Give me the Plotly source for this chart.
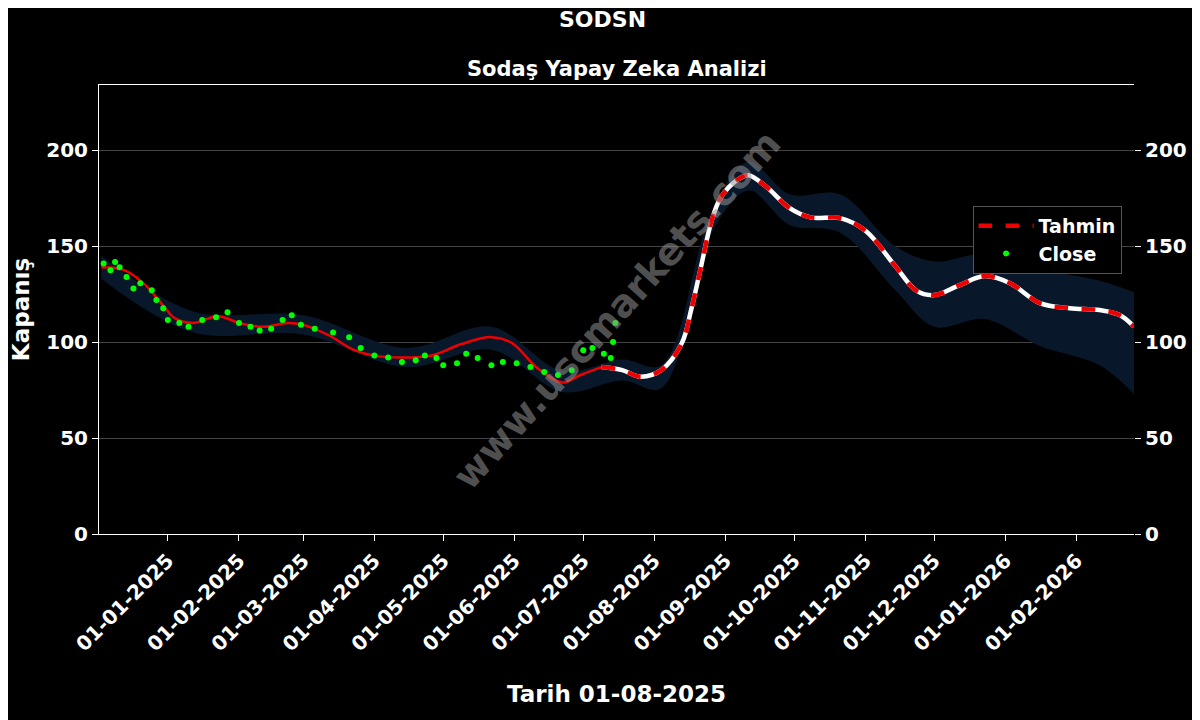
import plotly.graph_objects as go
import pandas as pd

# prediction line (Tahmin)
pred_dates = ['2024-12-03', '2024-12-13', '2024-12-22', '2024-12-30', '2025-01-04', '2025-01-12',
              '2025-01-23', '2025-02-01', '2025-02-12', '2025-02-22', '2025-03-01', '2025-03-12',
              '2025-03-23', '2025-04-02', '2025-04-15', '2025-04-26', '2025-05-09', '2025-05-22',
              '2025-05-31', '2025-06-11', '2025-06-22', '2025-06-30', '2025-07-09', '2025-07-18',
              '2025-07-26', '2025-08-04', '2025-08-13', '2025-08-17', '2025-08-21', '2025-08-26',
              '2025-08-30', '2025-09-06', '2025-09-11', '2025-09-19', '2025-09-29', '2025-10-08',
              '2025-10-21', '2025-11-01', '2025-11-14', '2025-11-23', '2025-12-01', '2025-12-12',
              '2025-12-23', '2026-01-03', '2026-01-16', '2026-01-29', '2026-02-11', '2026-02-20',
              '2026-02-26']
pred_values = [139, 137.5, 130, 119, 112.5, 110,
               113.5, 110, 108, 110, 109, 103.6,
               96, 92.7, 92, 93, 99, 102.6,
               99.5, 86.5, 79, 83, 87, 85.4,
               82, 85.4, 99.5, 116.7, 137.5, 163.5,
               175.5, 184.4, 187, 180.7, 169.8, 165,
               164.6, 158, 139.6, 127, 124.5, 129.7,
               134.4, 130.7, 120.3, 117.7, 116.7, 114,
               108]
forecast_start = '2025-07-15'

# confidence band
band_dates = ['2024-12-03', '2025-01-12', '2025-03-01', '2025-04-15', '2025-05-22', '2025-06-22',
              '2025-07-18', '2025-08-04', '2025-08-26', '2025-09-11', '2025-09-29', '2025-10-21',
              '2025-11-14', '2025-12-01', '2025-12-23', '2026-01-16', '2026-02-11', '2026-02-26']
band_upper = [145, 116, 114, 97, 108, 85, 91, 88, 168, 194, 177, 177, 150, 142, 146, 138, 132, 126]
band_lower = [133, 105, 104, 87, 96, 74, 80, 76, 157, 179, 161, 157, 127, 108, 112, 98, 88, 73]

# actual closes
close_dates = ['2024-12-04', '2024-12-07', '2024-12-09', '2024-12-11', '2024-12-14', '2024-12-17',
               '2024-12-20', '2024-12-25', '2024-12-27', '2024-12-30', '2025-01-01', '2025-01-06',
               '2025-01-10', '2025-01-16', '2025-01-22', '2025-01-27', '2025-02-01', '2025-02-06',
               '2025-02-10', '2025-02-15', '2025-02-20', '2025-02-24', '2025-02-28', '2025-03-06',
               '2025-03-14', '2025-03-21', '2025-03-26', '2025-04-01', '2025-04-07', '2025-04-13',
               '2025-04-19', '2025-04-23', '2025-04-28', '2025-05-01', '2025-05-07', '2025-05-11',
               '2025-05-16', '2025-05-22', '2025-05-27', '2025-06-02', '2025-06-08', '2025-06-14',
               '2025-06-20', '2025-06-26', '2025-07-01', '2025-07-05', '2025-07-10', '2025-07-13',
               '2025-07-14', '2025-07-15']
close_values = [141, 137.5, 141.7, 139, 134, 128,
                130.7, 127, 122, 117.7, 111.5, 110,
                108, 111.5, 113, 115.6, 110, 108,
                106, 107, 111.5, 114, 109, 107,
                105, 102.6, 97, 93, 92, 89.6,
                90.6, 93, 91.7, 88, 89, 94,
                91.7, 88, 89.6, 89, 87, 84.4,
                82.8, 85.4, 95.8, 97, 94, 91.7,
                100, 110]

y_ticks = [0, 50, 100, 150, 200]
x_ticks = pd.date_range('2025-01-01', '2026-02-01', freq='MS')
x_labels = [d.strftime('%d-%m-%Y') for d in x_ticks]

pred = pd.DataFrame({'d': pd.to_datetime(pred_dates), 'v': pred_values})
past = pred[pred.d <= forecast_start]
fut = pred[pred.d >= pd.Timestamp('2025-07-09')]

font = 'DejaVu Sans'
fig = go.Figure()

fig.add_trace(go.Scatter(x=band_dates, y=band_upper, mode='lines', line=dict(width=0, shape='spline'),
                         showlegend=False, hoverinfo='skip'))
fig.add_trace(go.Scatter(x=band_dates, y=band_lower, mode='lines', line=dict(width=0, shape='spline'),
                         fill='tonexty', fillcolor='#08182a', showlegend=False, hoverinfo='skip'))

fig.add_trace(go.Scatter(x=past.d, y=past.v, mode='lines', line=dict(color='#ee0000', width=2.5, shape='spline'),
                         showlegend=False))
fig.add_trace(go.Scatter(x=fut.d, y=fut.v, mode='lines', line=dict(color='white', width=4.5, shape='spline'),
                         showlegend=False))
fig.add_trace(go.Scatter(x=fut.d, y=fut.v, mode='lines', name='Tahmin',
                         line=dict(color='#ee0000', width=4.5, dash='dash', shape='spline')))

fig.add_trace(go.Scatter(x=close_dates, y=close_values, mode='markers', name='Close',
                         marker=dict(color='#00ff00', size=6)))

# right-side mirror axis
fig.add_trace(go.Scatter(x=[close_dates[0]], y=[close_values[0]], yaxis='y2', mode='markers',
                         marker=dict(opacity=0), showlegend=False, hoverinfo='skip'))

axis_font = dict(family=font, size=20, color='white', weight='bold')
title_font = dict(family=font, size=23, color='white', weight='bold')
fig.update_layout(
    width=1200, height=720,
    paper_bgcolor='black', plot_bgcolor='black',
    margin=dict(l=88, r=74, t=77, b=194),
    font=dict(family=font, color='white'),
    xaxis=dict(range=['2024-12-02', '2026-02-26'], tickvals=x_ticks, ticktext=x_labels, tickangle=-45,
               tickfont=axis_font, showgrid=False, ticks='outside', ticklen=6, tickcolor='white',
               showline=True, linecolor='white', mirror=True, zeroline=False,
               title=dict(text='Tarih 01-08-2025', font=title_font, standoff=30)),
    yaxis=dict(range=[0, 234], tickvals=y_ticks, tickfont=axis_font, gridcolor='#444444', gridwidth=1,
               ticks='outside', ticklen=6, tickcolor='white', showline=True, linecolor='white',
               zeroline=False,
               title=dict(text='Kapanış', font=title_font, standoff=10)),
    yaxis2=dict(range=[0, 234], tickvals=y_ticks, tickfont=axis_font, overlaying='y', side='right',
                showgrid=False, ticks='outside', ticklen=6, tickcolor='white', zeroline=False),
    legend=dict(x=0.988, y=0.655, xanchor='right', yanchor='middle', bgcolor='black',
                bordercolor='#555555', borderwidth=1, traceorder='normal', itemwidth=55,
                font=dict(family=font, size=19, color='white', weight='bold')),
    showlegend=True,
)
fig.add_annotation(text='<b>SODSN</b>', xref='paper', yref='paper', x=0.486, y=1.145, yanchor='middle',
                   showarrow=False, font=dict(family=font, size=22, color='white'))
fig.add_annotation(text='<b>Sodaş Yapay Zeka Analizi</b>', xref='paper', yref='paper', x=0.5, y=1.036,
                   yanchor='middle', showarrow=False, font=dict(family=font, size=21, color='white'))
fig.add_annotation(text='<b>www.uscmarkets.com</b>', xref='paper', yref='paper', x=0.5, y=0.5,
                   showarrow=False, textangle=-48, font=dict(family=font, size=38, color='rgba(150,150,150,0.55)'))

fig.write_html('out.html')
